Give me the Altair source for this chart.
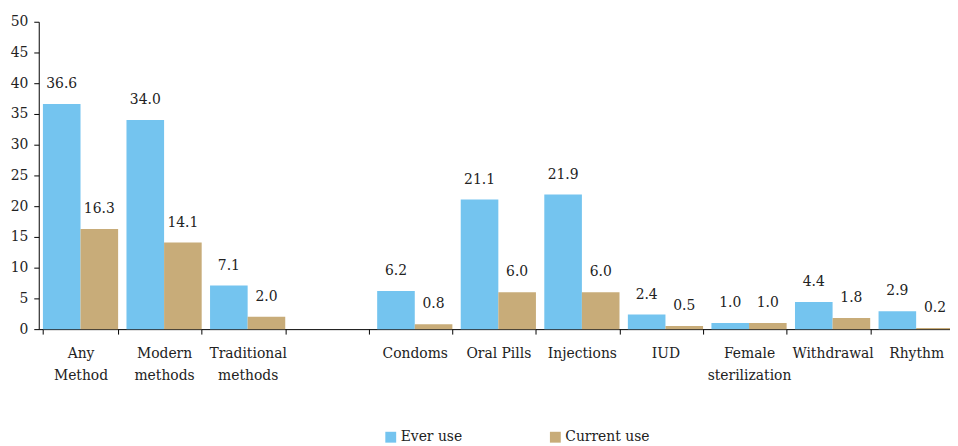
import altair as alt
import pandas as pd

categories = ["Any|Method", "Modern|methods", "Traditional|methods", " ",
              "Condoms", "Oral Pills", "Injections", "IUD",
              "Female|sterilization", "Withdrawal", "Rhythm"]
ever_use = [36.6, 34.0, 7.1, None, 6.2, 21.1, 21.9, 2.4, 1.0, 4.4, 2.9]
current_use = [16.3, 14.1, 2.0, None, 0.8, 6.0, 6.0, 0.5, 1.0, 1.8, 0.2]
series = ["Ever use", "Current use"]
colors = ["#74C4EF", "#C8AC79"]
y_ticks = list(range(0, 51, 5))

rows = []
for c, e, cu in zip(categories, ever_use, current_use):
    if e is not None:
        rows.append({"cat": c, "series": series[0], "value": e})
    if cu is not None:
        rows.append({"cat": c, "series": series[1], "value": cu})
df = pd.DataFrame(rows)

FONT = "DejaVu Serif"

x = alt.X("cat:N",
          scale=alt.Scale(domain=categories, range=[0, 927],
                          paddingInner=0.1, paddingOuter=0.05),
          axis=alt.Axis(title=None, labelAngle=0, tickBand="extent",
                        labelExpr="isValid(datum.value) ? split(datum.value, '|') : ''",
                        labelLineHeight=22, labelPadding=13, tickSize=5))
xo = alt.XOffset("series:N", scale=alt.Scale(domain=series))
y = alt.Y("value:Q", scale=alt.Scale(domain=[0, 50]),
          axis=alt.Axis(title=None, values=y_ticks, grid=False,
                        tickSize=5, labelPadding=6))

bars = alt.Chart(df).mark_bar().encode(
    x=x, xOffset=xo, y=y,
    color=alt.Color("series:N",
                    scale=alt.Scale(domain=series, range=colors),
                    legend=alt.Legend(title=None, orient="none",
                                      legendX=348, legendY=412,
                                      direction="horizontal",
                                      symbolType="square", symbolSize=120,
                                      symbolStrokeWidth=0, symbolOpacity=1,
                                      labelFont=FONT, labelFontSize=14,
                                      labelColor="#222", labelOffset=3,
                                      columnPadding=86)),
)

labels = alt.Chart(df).mark_text(
    baseline="alphabetic", dy=-16, font=FONT, fontSize=14, color="#222"
).encode(x=x, xOffset=xo, y=y, text=alt.Text("value:Q", format=".1f"))

chart = alt.layer(bars, labels).properties(
    width=919, height=310,
    autosize=alt.AutoSizeParams(type="none"),
    padding={"left": 31, "top": 12, "right": 0, "bottom": 116},
).configure_view(stroke=None).configure_axis(
    domainColor="#000", tickColor="#000", labelFont=FONT,
    labelFontSize=14, labelColor="#222"
)

chart.save("out.html", embed_options={"renderer": "svg", "actions": False})
